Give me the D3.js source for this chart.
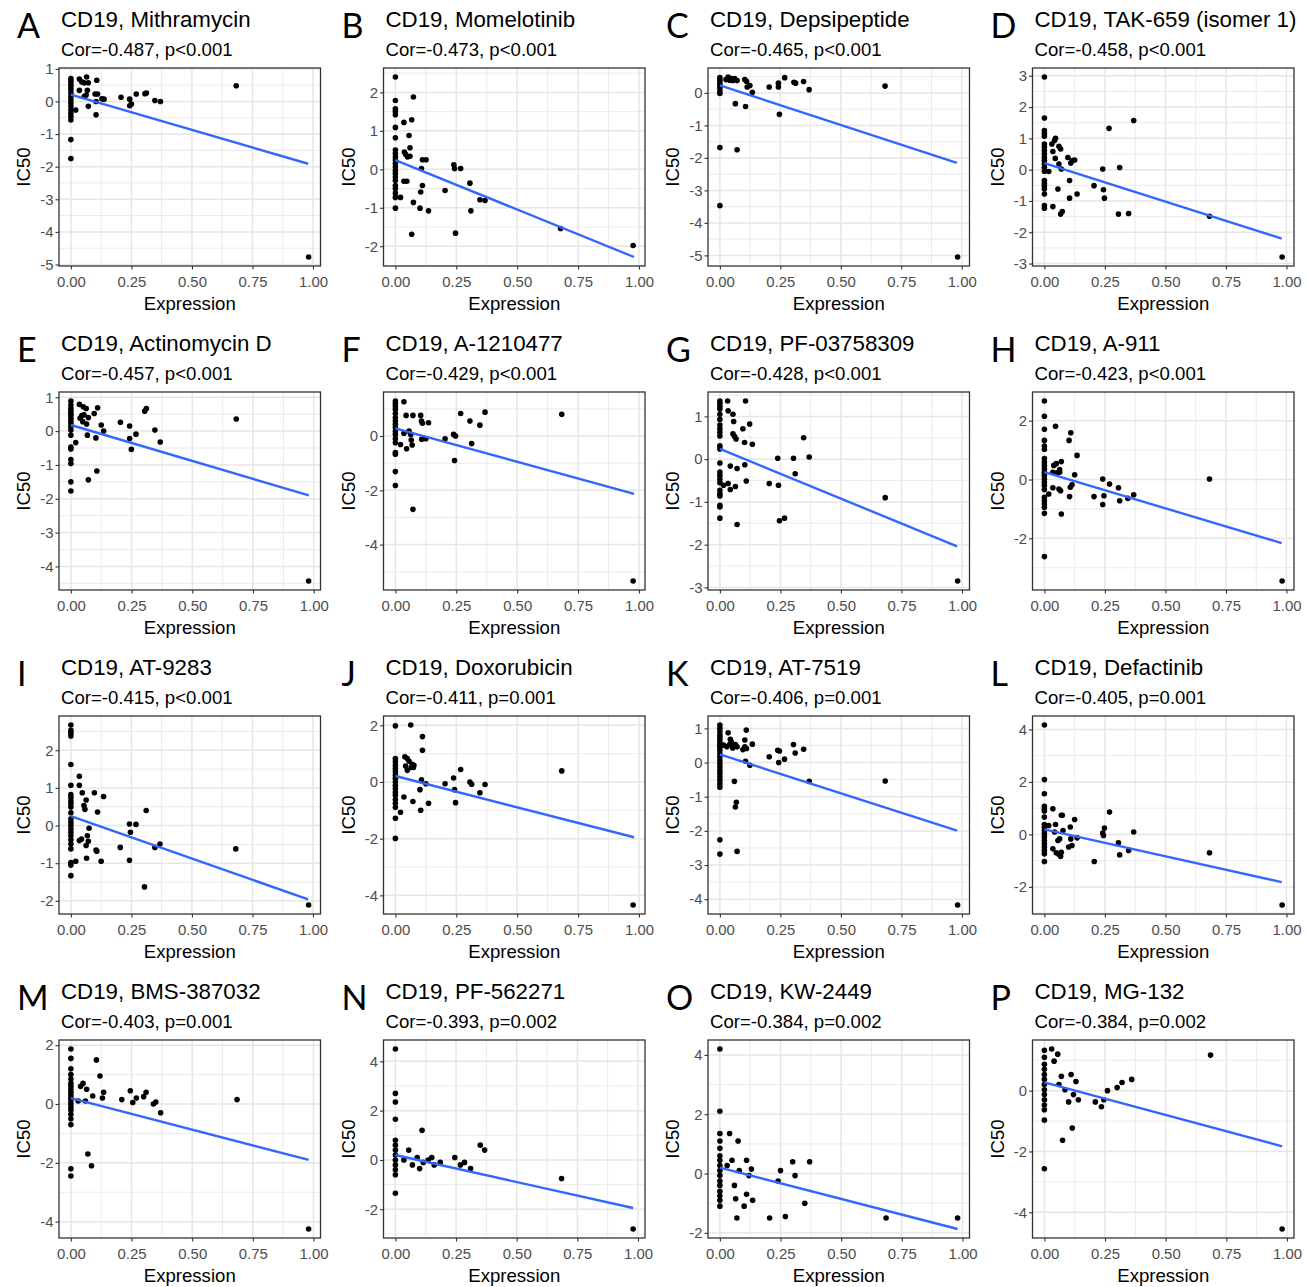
<!DOCTYPE html>
<html><head><meta charset="utf-8">
<script src="https://cdn.jsdelivr.net/npm/d3@7"></script>
<style>
body{margin:0;background:#fff}
svg text{font-family:"Liberation Sans",Arial,sans-serif}
</style>
</head><body>
<svg id="fig" width="1307" height="1287"></svg>
<script>
// Panel letters, drug names and correlation captions
const panelLetters = ["A","B","C","D","E","F","G","H","I","J","K","L","M","N","O","P"];
const gene = "CD19";
const drugs = ["Mithramycin","Momelotinib","Depsipeptide","TAK-659 (isomer 1)",
  "Actinomycin D","A-1210477","PF-03758309","A-911",
  "AT-9283","Doxorubicin","AT-7519","Defactinib",
  "BMS-387032","PF-562271","KW-2449","MG-132"];
const corLabels = ["Cor=-0.487, p<0.001","Cor=-0.473, p<0.001","Cor=-0.465, p<0.001","Cor=-0.458, p<0.001",
  "Cor=-0.457, p<0.001","Cor=-0.429, p<0.001","Cor=-0.428, p<0.001","Cor=-0.423, p<0.001",
  "Cor=-0.415, p<0.001","Cor=-0.411, p=0.001","Cor=-0.406, p=0.001","Cor=-0.405, p=0.001",
  "Cor=-0.403, p=0.001","Cor=-0.393, p=0.002","Cor=-0.384, p=0.002","Cor=-0.384, p=0.002"];

// Axis ticks
const xTickValues = [0, 0.25, 0.5, 0.75, 1];
const yTickValues = [
  [1,0,-1,-2,-3,-4,-5],[2,1,0,-1,-2],[0,-1,-2,-3,-4,-5],[3,2,1,0,-1,-2,-3],
  [1,0,-1,-2,-3,-4],[0,-2,-4],[1,0,-1,-2,-3],[2,0,-2],
  [2,1,0,-1,-2],[2,0,-2,-4],[1,0,-1,-2,-3,-4],[4,2,0,-2],
  [2,0,-2,-4],[4,2,0,-2],[4,2,0,-2],[0,-2,-4]];

// Linear fit: IC50 at the lowest and highest expression
const fitX = [0, 0.98];
const fitEnds = [
  [0.21,-1.91],[0.24,-2.28],[0.23,-2.15],[0.21,-2.20],
  [0.18,-1.90],[0.28,-2.13],[0.24,-2.04],[0.25,-2.16],
  [0.25,-1.96],[0.21,-1.95],[0.24,-1.99],[0.19,-1.82],
  [0.20,-1.90],[0.20,-1.95],[0.20,-1.87],[0.27,-1.83]];

// [Expression, IC50] per drug
const mithramycin = [[0,0.7],[0,0.62],[0,0.53],[0,0.44],[0,0.36],[0,0.26],[0,0.15],[0,0.05],[0,-0.05],[0,-0.15],[0,-0.26],[0,-0.36],[0,-0.46],[0,-0.57],[0,-1.17],[0,-1.75],
 [0.02,-0.26],[0.035,0.69],[0.035,0.34],[0.045,0.6],[0.055,0.57],[0.055,0.15],[0.065,0.75],[0.063,0.2],[0.068,0.34],[0.072,0.57],[0.072,-0.15],
 [0.1,0.23],[0.104,0.0],[0.104,-0.41],[0.107,0.65],[0.11,0.23],[0.128,0.08],[0.137,0.07],
 [0.207,0.13],[0.243,0.07],[0.243,-0.13],[0.25,-0.08],[0.27,0.23],[0.306,0.24],[0.312,0.26],[0.347,0.03],[0.37,0.0],
 [0.683,0.48],[0.982,-4.77]];
const momelotinib = [[0,2.4],[0,1.79],[0,1.57],[0,1.5],[0,1.42],[0,1.09],[0,0.82],[0,0.5],[0,0.41],[0,0.32],[0,0.24],[0,0.15],[0,0.06],[0,-0.03],[0,-0.11],[0,-0.2],[0,-0.29],[0,-0.42],[0,-0.5],[0,-0.62],[0,-0.73],[0,-1.01],
 [0.021,-0.73],[0.035,1.22],[0.037,0.45],[0.035,-0.31],[0.047,-0.31],[0.042,0.39],[0.05,0.32],[0.056,0.88],[0.06,0.56],[0.06,0.34],[0.067,1.29],[0.074,1.88],[0.074,-0.86],[0.067,-1.69],
 [0.101,-1.01],[0.104,-0.59],[0.107,0.02],[0.111,0.25],[0.111,-0.42],[0.126,0.25],[0.136,-1.08],
 [0.204,-0.55],[0.24,0.12],[0.243,0.02],[0.247,-1.66],[0.268,0.02],[0.306,-0.36],[0.31,-1.08],[0.347,-0.79],[0.368,-0.81],
 [0.678,-1.54],[0.976,-1.98]];
const depsipeptide = [[0,0.47],[0,0.39],[0,0.3],[0,0.23],[0,0.15],[0,0.06],[0,-0.02],[0,-1.68],[0,-3.47],
 [0.025,0.41],[0.034,0.49],[0.04,0.39],[0.047,0.44],[0.054,0.38],[0.061,0.44],[0.064,-0.33],[0.071,-1.75],[0.071,0.38],
 [0.103,0.41],[0.106,-0.42],[0.11,0.36],[0.113,0.18],[0.124,0.23],[0.134,0.02],
 [0.204,0.18],[0.242,0.18],[0.242,0.3],[0.246,-0.66],[0.268,0.47],[0.306,0.33],[0.313,0.3],[0.346,0.35],[0.369,0.1],
 [0.683,0.21],[0.983,-5.05]];
const tak659 = [[0,2.96],[0,1.65],[0,1.25],[0,1.16],[0,1.07],[0,0.82],[0,0.72],[0,0.61],[0,0.5],[0,0.39],[0,0.29],[0,0.18],[0,0.07],[0,-0.05],[0,-0.35],[0,-0.44],[0,-0.52],[0,-0.62],[0,-0.78],[0,-1.15],[0,-1.23],
 [0.018,-0.06],[0.031,0.82],[0.035,0.58],[0.035,-1.18],[0.042,0.93],[0.046,1.0],[0.045,0.36],[0.056,-0.62],[0.06,0.75],[0.06,0.18],[0.067,0.66],[0.07,0.02],[0.067,-1.42],[0.074,-1.34],
 [0.097,0.39],[0.104,-0.35],[0.104,-0.91],[0.109,0.21],[0.116,0.29],[0.125,0.31],[0.135,-0.78],
 [0.205,-0.51],[0.241,0.02],[0.244,-0.64],[0.248,-0.91],[0.267,1.32],[0.306,-1.42],[0.311,0.07],[0.348,-1.4],[0.369,1.57],
 [0.682,-1.49],[0.982,-2.79]];
const actinomycinD = [[0,0.89],[0,0.77],[0,0.67],[0,0.59],[0,0.52],[0,0.46],[0,0.38],[0,0.3],[0,0.22],[0,0.13],[0,0.03],[0,-0.12],[0,-0.47],[0,-0.53],[0,-0.84],[0,-0.96],[0,-1.5],[0,-1.77],
 [0.02,-0.34],[0.035,0.79],[0.038,0.38],[0.045,0.46],[0.049,0.28],[0.051,0.72],[0.054,0.48],[0.063,0.67],[0.065,0.21],[0.068,-0.12],[0.072,-1.44],[0.072,0.4],
 [0.096,0.52],[0.103,-0.2],[0.107,-1.18],[0.11,0.69],[0.125,0.18],[0.135,0.0],
 [0.204,0.26],[0.242,0.15],[0.242,-0.22],[0.249,-0.54],[0.268,-0.09],[0.304,0.59],[0.311,0.67],[0.346,0.03],[0.368,-0.32],
 [0.681,0.36],[0.979,-4.43]];
const a1210477 = [[0,1.29],[0,1.2],[0,1.1],[0,0.98],[0,0.83],[0,0.67],[0,0.55],[0,0.43],[0,0.31],[0,0.18],[0,0.06],[0,-0.1],[0,-0.25],[0,-0.61],[0,-0.67],[0,-1.31],[0,-1.82],
 [0.021,-0.31],[0.035,1.26],[0.035,0.1],[0.044,0.76],[0.046,-0.47],[0.056,0.18],[0.063,0.06],[0.065,-0.15],[0.069,-0.33],[0.072,0.76],[0.072,-2.7],
 [0.104,0.76],[0.107,0.55],[0.111,0.47],[0.108,-0.12],[0.125,-0.1],[0.136,0.49],
 [0.204,-0.1],[0.239,0.06],[0.247,0.0],[0.243,-0.9],[0.268,0.83],[0.306,0.55],[0.313,-0.28],[0.347,0.4],[0.368,0.88],
 [0.683,0.8],[0.976,-5.34]];
const pf03758309 = [[0,1.36],[0,1.3],[0,1.23],[0,1.17],[0,1.05],[0,0.93],[0,0.8],[0,0.71],[0,0.63],[0,0.54],[0,0.31],[0,0.24],[0,-0.09],[0,-0.3],[0,-0.38],[0,-0.47],[0,-0.55],[0,-0.73],[0,-0.81],[0,-0.86],[0,-1.08],[0,-1.12],[0,-1.38],
 [0.015,-0.61],[0.032,1.36],[0.034,1.13],[0.034,-0.57],[0.043,-0.16],[0.043,-0.71],[0.054,1.05],[0.057,0.88],[0.054,0.59],[0.061,0.53],[0.067,0.47],[0.064,-0.64],[0.071,-0.22],[0.071,-1.53],
 [0.095,0.71],[0.102,0.39],[0.103,-0.13],[0.106,1.36],[0.109,-0.51],[0.123,0.82],[0.134,0.35],
 [0.204,-0.57],[0.239,0.02],[0.242,-0.61],[0.246,-1.44],[0.267,-1.38],[0.304,0.02],[0.311,-0.34],[0.346,0.5],[0.369,0.05],
 [0.683,-0.9],[0.982,-2.85]];
const a911 = [[0,2.67],[0,2.15],[0,1.71],[0,1.33],[0,1.14],[0,1.03],[0,0.71],[0,0.59],[0,0.48],[0,0.36],[0,0.25],[0,0.14],[0,0.02],[0,-0.09],[0,-0.2],[0,-0.34],[0,-0.6],[0,-0.72],[0,-0.83],[0,-0.95],[0,-1.15],[0,-2.62],
 [0.018,-0.49],[0.035,0.25],[0.035,-0.28],[0.039,0.48],[0.046,1.81],[0.049,0.54],[0.052,0.23],[0.06,-0.32],[0.063,0.34],[0.067,-0.38],[0.07,0.61],[0.07,-1.17],[0.063,0.25],
 [0.102,1.33],[0.104,-0.58],[0.107,-0.26],[0.109,1.59],[0.114,-0.18],[0.125,0.16],[0.135,0.82],
 [0.205,-0.58],[0.241,0.02],[0.241,-0.85],[0.246,-0.55],[0.269,-0.15],[0.306,-0.28],[0.311,-0.72],[0.345,-0.64],[0.369,-0.52],
 [0.682,0.02],[0.982,-3.45]];
const at9283 = [[0,2.67],[0,2.53],[0,2.46],[0,2.38],[0,1.62],[0,1.07],[0,0.82],[0,0.74],[0,0.65],[0,0.58],[0,0.49],[0,0.34],[0,0.18],[0,0.09],[0,0.0],[0,-0.09],[0,-0.18],[0,-0.27],[0,-0.38],[0,-0.49],[0,-0.62],[0,-0.98],[0,-1.05],[0,-1.33],
 [0.02,-0.95],[0.035,1.31],[0.035,1.07],[0.035,-0.4],[0.044,-0.36],[0.047,0.87],[0.054,0.53],[0.058,0.43],[0.063,0.68],[0.063,-0.53],[0.065,-0.87],[0.068,-0.27],[0.072,-0.42],[0.075,-0.07],
 [0.097,0.87],[0.104,-0.65],[0.107,-0.68],[0.11,0.36],[0.125,-0.95],[0.135,0.77],
 [0.204,-0.58],[0.242,0.04],[0.242,-0.92],[0.246,-0.18],[0.269,0.03],[0.304,-1.63],[0.311,0.4],[0.347,-0.58],[0.368,-0.49],
 [0.681,-0.62],[0.982,-2.11]];
const doxorubicin = [[0,1.98],[0,0.83],[0,0.71],[0,0.59],[0,0.47],[0,0.36],[0,0.24],[0,0.12],[0,0.0],[0,-0.12],[0,-0.24],[0,-0.36],[0,-0.47],[0,-0.62],[0,-0.75],[0,-0.89],[0,-1.28],[0,-1.99],
 [0.021,-1.07],[0.035,-0.53],[0.039,0.89],[0.042,0.56],[0.049,0.83],[0.049,0.41],[0.056,0.73],[0.063,2.01],[0.065,0.51],[0.069,0.62],[0.074,0.51],[0.076,0.59],[0.072,-0.69],
 [0.101,-0.27],[0.104,-1.0],[0.107,0.08],[0.111,1.6],[0.111,1.12],[0.125,-0.06],[0.136,-0.75],
 [0.204,-0.06],[0.239,0.14],[0.243,-0.27],[0.247,-0.73],[0.268,0.44],[0.306,0.0],[0.313,-0.08],[0.347,-0.38],[0.368,-0.09],
 [0.683,0.39],[0.976,-4.34]];
const at7519 = [[0,1.1],[0,1.0],[0,0.9],[0,0.8],[0,0.74],[0,0.66],[0,0.58],[0,0.51],[0,0.44],[0,0.36],[0,0.26],[0,0.17],[0,0.07],[0,-0.03],[0,-0.13],[0,-0.23],[0,-0.32],[0,-0.42],[0,-0.52],[0,-0.62],[0,-0.72],[0,-2.26],[0,-2.68],
 [0.015,0.51],[0.029,0.46],[0.034,0.87],[0.04,0.53],[0.043,0.68],[0.047,0.61],[0.053,0.43],[0.057,0.48],[0.06,-0.55],[0.064,-1.3],[0.068,-1.16],[0.071,-2.6],[0.064,0.53],[0.071,0.46],
 [0.095,0.38],[0.103,0.46],[0.103,0.66],[0.106,0.04],[0.109,0.95],[0.11,0.41],[0.124,-0.08],[0.134,0.54],
 [0.204,0.17],[0.239,0.36],[0.243,0.0],[0.246,0.34],[0.267,0.1],[0.304,0.53],[0.311,0.28],[0.346,0.39],[0.369,-0.55],
 [0.683,-0.54],[0.982,-4.17]];
const defactinib = [[0,4.17],[0,2.09],[0,1.55],[0,1.07],[0,0.98],[0,0.89],[0,0.66],[0,0.38],[0,0.28],[0,0.15],[0,0.03],[0,-0.1],[0,-0.23],[0,-0.36],[0,-0.48],[0,-0.61],[0,-0.74],[0,-1.03],
 [0.018,0.34],[0.035,0.98],[0.035,-0.55],[0.042,0.09],[0.046,0.38],[0.049,-0.7],[0.056,-0.23],[0.06,-0.76],[0.063,-0.17],[0.067,-0.84],[0.07,0.73],[0.074,0.73],[0.07,-0.68],[0.077,0.15],
 [0.1,-0.48],[0.107,0.28],[0.109,-0.17],[0.114,-0.42],[0.125,0.57],[0.135,-0.13],
 [0.206,-1.03],[0.241,0.05],[0.244,-0.04],[0.248,0.24],[0.269,0.85],[0.306,-0.32],[0.311,-0.78],[0.348,-0.61],[0.369,0.09],
 [0.682,-0.7],[0.982,-2.69]];
const bms387032 = [[0,1.87],[0,1.55],[0,1.2],[0,1.0],[0,0.85],[0,0.7],[0,0.6],[0,0.5],[0,0.4],[0,0.3],[0,0.2],[0,0.1],[0,0.0],[0,-0.1],[0,-0.2],[0,-0.35],[0,-0.5],[0,-0.7],[0,-2.2],[0,-2.45],
 [0.03,0.1],[0.04,0.6],[0.05,0.7],[0.06,0.1],[0.065,0.5],[0.07,-1.7],[0.085,-2.1],[0.09,0.27],[0.105,1.5],[0.12,0.95],[0.13,0.2],[0.135,0.4],
 [0.21,0.15],[0.245,0.45],[0.255,0.05],[0.27,0.2],[0.3,0.25],[0.31,0.4],[0.34,0.0],[0.35,0.07],[0.37,-0.3],
 [0.685,0.15],[0.98,-4.25]];
const pf562271 = [[0,4.5],[0,2.7],[0,2.35],[0,1.65],[0,0.8],[0,0.6],[0,0.4],[0,0.2],[0,0.0],[0,-0.2],[0,-0.4],[0,-0.6],[0,-1.35],
 [0.035,0.0],[0.055,0.4],[0.07,-0.2],[0.09,0.1],[0.1,-0.35],[0.11,1.2],[0.115,-0.1],[0.135,0.0],[0.15,0.1],[0.16,-0.2],[0.185,-0.1],
 [0.245,0.1],[0.268,-0.2],[0.285,-0.1],[0.31,-0.35],[0.35,0.6],[0.368,0.4],
 [0.685,-0.75],[0.98,-2.8]];
const kw2449 = [[0,4.2],[0,2.1],[0,1.35],[0,1.1],[0,0.85],[0,0.6],[0,0.45],[0,0.27],[0,0.1],[0,-0.07],[0,-0.25],[0,-0.4],[0,-0.6],[0,-0.75],[0,-0.9],[0,-1.1],
 [0.03,0.27],[0.04,1.35],[0.05,0.45],[0.06,-0.4],[0.065,-0.85],[0.07,-1.5],[0.075,1.1],[0.08,0.1],[0.1,-1.1],[0.11,0.45],[0.11,-0.7],[0.12,-0.07],[0.13,0.15],[0.135,-0.9],
 [0.205,-1.5],[0.24,-0.25],[0.25,0.1],[0.27,-1.45],[0.3,0.4],[0.31,-0.07],[0.35,-1.0],[0.37,0.4],
 [0.685,-1.5],[0.98,-1.5]];
const mg132 = [[0,1.33],[0,1.1],[0,0.87],[0,0.7],[0,0.53],[0,0.37],[0,0.2],[0,0.03],[0,-0.13],[0,-0.3],[0,-0.47],[0,-0.63],[0,-0.97],[0,-2.57],
 [0.03,1.37],[0.04,0.97],[0.055,1.2],[0.06,0.2],[0.07,0.47],[0.075,-1.63],[0.085,0.03],[0.1,-0.37],[0.11,0.53],[0.115,-1.23],[0.12,-0.13],[0.13,0.3],[0.14,-0.3],
 [0.21,-0.37],[0.235,-0.53],[0.245,-0.3],[0.26,0.0],[0.3,0.1],[0.32,0.27],[0.36,0.37],
 [0.685,1.17],[0.98,-4.55]];

const panelPoints = [mithramycin, momelotinib, depsipeptide, tak659,
  actinomycinD, a1210477, pf03758309, a911,
  at9283, doxorubicin, at7519, defactinib,
  bms387032, pf562271, kw2449, mg132];

// Layout of the 4x4 grid of panels
const colLeft = [59, 383.5, 708, 1032.5];
const rowTop = [68, 392, 716, 1040];
const plotW = 261.5, plotH = 198;
const titleSize = 22.3, baseSize = 18.6, tickSize = 14.9;

const svg = d3.select("#fig");

function minorBreaks(majors, domain) {
  const m = majors.slice().sort((a, b) => a - b);
  const step = m[1] - m[0];
  const out = [];
  for (let v = m[0] - step / 2; v <= m[m.length - 1] + step / 2 + 1e-9; v += step) out.push(v);
  return out.filter(v => v >= domain[0] && v <= domain[1]);
}

panelPoints.forEach((pts, i) => {
  const c = i % 4, r = Math.floor(i / 4);
  const g = svg.append("g").attr("transform", `translate(${colLeft[c]},${rowTop[r]})`);

  const xExt = d3.extent(pts, d => d[0]);
  const xPad = (xExt[1] - xExt[0]) * 0.05;
  const x = d3.scaleLinear().domain([xExt[0] - xPad, xExt[1] + xPad]).range([0, plotW]);

  const yExt = d3.extent(pts.map(d => d[1]).concat(fitEnds[i]));
  const yPad = (yExt[1] - yExt[0]) * 0.05;
  const y = d3.scaleLinear().domain([yExt[0] - yPad, yExt[1] + yPad]).range([plotH, 0]);

  // grid
  const grid = g.append("g").attr("stroke", "#E6E6E6").attr("fill", "none");
  minorBreaks(xTickValues, x.domain()).forEach(v =>
    grid.append("line").attr("x1", x(v)).attr("x2", x(v)).attr("y1", 0).attr("y2", plotH).attr("stroke-width", 0.8));
  minorBreaks(yTickValues[i], y.domain()).forEach(v =>
    grid.append("line").attr("y1", y(v)).attr("y2", y(v)).attr("x1", 0).attr("x2", plotW).attr("stroke-width", 0.8));
  xTickValues.forEach(v =>
    grid.append("line").attr("x1", x(v)).attr("x2", x(v)).attr("y1", 0).attr("y2", plotH).attr("stroke-width", 1.5));
  yTickValues[i].forEach(v =>
    grid.append("line").attr("y1", y(v)).attr("y2", y(v)).attr("x1", 0).attr("x2", plotW).attr("stroke-width", 1.5));

  // points
  g.append("g").selectAll("circle").data(pts).join("circle")
    .attr("cx", d => x(d[0])).attr("cy", d => y(d[1])).attr("r", 2.8).attr("fill", "#000");

  // fitted line
  g.append("line")
    .attr("x1", x(fitX[0])).attr("y1", y(fitEnds[i][0]))
    .attr("x2", x(fitX[1])).attr("y2", y(fitEnds[i][1]))
    .attr("stroke", "#3366FF").attr("stroke-width", 2.4);

  // panel border
  g.append("rect").attr("width", plotW).attr("height", plotH)
    .attr("fill", "none").attr("stroke", "#333333").attr("stroke-width", 1.3);

  // axes
  const xa = g.append("g").attr("transform", `translate(0,${plotH})`)
    .call(d3.axisBottom(x).tickValues(xTickValues).tickFormat(d3.format(".2f")).tickSize(3.5).tickPadding(7));
  const ya = g.append("g")
    .call(d3.axisLeft(y).tickValues(yTickValues[i]).tickFormat(d => String(d)).tickSize(3.5).tickPadding(2));
  [xa, ya].forEach(a => {
    a.select(".domain").remove();
    a.selectAll(".tick line").attr("stroke", "#333333").attr("stroke-width", 1.1);
    a.selectAll(".tick text").attr("fill", "#4D4D4D").attr("font-size", tickSize)
      .style("font-family", '"Liberation Sans", Arial, sans-serif');
  });

  // axis titles
  g.append("text").attr("x", plotW / 2).attr("y", plotH + 44).attr("text-anchor", "middle")
    .attr("font-size", baseSize).attr("fill", "#000").text("Expression");
  g.append("text").attr("transform", `translate(-29,${plotH / 2}) rotate(-90)`).attr("text-anchor", "middle")
    .attr("font-size", baseSize).attr("fill", "#000").text("IC50");

  // title, subtitle, panel letter
  g.append("text").attr("x", 2).attr("y", -41).attr("font-size", titleSize).attr("fill", "#000")
    .text(`${gene}, ${drugs[i]}`);
  g.append("text").attr("x", 2).attr("y", -12).attr("font-size", baseSize).attr("fill", "#000")
    .text(corLabels[i]);
  g.append("text").attr("x", -42).attr("y", -30).attr("font-size", 34).attr("fill", "#000")
    .style("font-family", "Lato, 'Open Sans', sans-serif").text(panelLetters[i]);
});
</script>
</body></html>
